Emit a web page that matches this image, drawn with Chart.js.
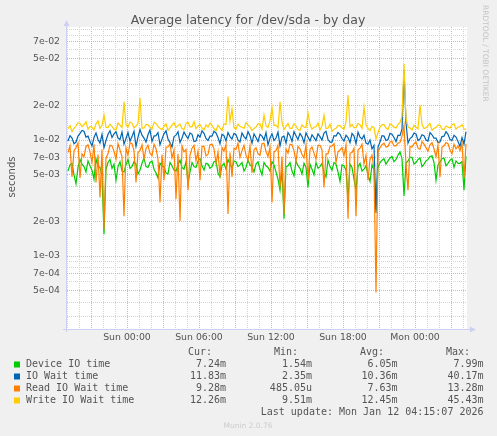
<!DOCTYPE html>
<html>
<head>
<meta charset="utf-8">
<script src="https://cdn.jsdelivr.net/npm/chart.js@4.4.1/dist/chart.umd.min.js"></script>
<style>
html, body { margin: 0; padding: 0; background: #f0f0f0; }
</style>
</head>
<body>
<canvas id="myChart" width="497" height="436"></canvas>
<script>
// samples every 10 minutes, minutes relative to Sun 00:00
var sampleStart = -295, sampleStep = 10;

// values in milliseconds
var deviceIO = [5.4,6.1, 6.3,5.0, 4.2,5.8, 6.8,6.2, 5.9,5.3, 6.6,6.0, 5.5,4.6, 6.9,5.9, 5.8,4.9, 1.54,5.6,
  6.4,6.8, 5.7,6.2, 4.5,5.9, 6.5,5.4, 5.3,6.1, 6.8,5.7, 5.9,6.5, 6.2,5.1, 5.5,6.3, 7.0,5.9,
  5.8,6.4, 6.6,5.6, 5.2,4.7, 6.3,6.0, 5.9,5.2, 5.1,6.4, 6.0,5.5, 5.4,6.1, 6.7,5.8, 5.6,6.5,
  4.2,5.3, 6.4,5.9, 5.8,6.6, 6.9,6.0, 5.5,6.3, 6.2,5.7, 5.9,6.5, 6.6,5.2, 4.8,6.0, 6.3,5.6,
  6.8,6.2, 5.7,6.6, 6.5,5.9, 6.1,6.4, 5.4,5.8, 6.7,6.1, 5.9,5.3, 6.2,6.5, 5.6,5.0, 6.4,6.0,
  5.8,5.4, 6.5,6.1, 5.3,4.6, 3.7,5.5, 2.1,5.9, 6.0,6.4, 5.4,4.9, 6.6,6.0, 5.7,5.1, 6.3,5.8,
  3.9,6.2, 5.6,5.0, 6.4,5.7, 5.9,6.3, 5.2,4.8, 6.7,5.9, 5.5,6.4, 6.2,5.3, 4.4,6.1, 6.0,5.5,
  3.0,6.2, 5.8,4.6, 3.7,5.9, 6.3,5.4, 5.6,6.0, 5.0,4.4, 6.1,5.5, 2.5,5.8, 6.4,6.7, 6.9,6.2,
  6.6,7.0, 7.2,6.5, 6.8,7.4, 7.9,6.9, 3.3,6.3, 6.6,7.1, 7.1,6.2, 6.4,6.8, 7.0,5.9, 6.2,6.6,
  6.8,7.2, 7.3,6.4, 4.5,6.1, 6.5,6.9, 7.0,6.0, 6.3,6.7, 6.9,5.8, 6.6,6.3, 6.3,6.5, 3.7,7.24];
var ioWait = [9.8,10.9, 10.4,9.3, 9.6,10.8, 11.4,12.1, 11.9,10.6, 10.8,9.7, 8.9,10.5, 11.5,10.1, 9.4,11.2, 8.6,9.9,
  11.2,12.0, 10.5,11.3, 11.8,10.4, 10.1,11.7, 9.2,10.3, 11.6,9.8, 10.7,11.9, 8.8,10.6, 12.3,11.0, 10.4,9.6,
  11.1,12.2, 9.7,10.8, 10.9,11.6, 9.1,10.2, 11.3,12.0, 10.2,9.5, 8.7,10.7, 11.0,11.8, 9.5,10.4, 11.7,10.9,
  10.3,11.5, 11.2,9.7, 9.8,11.1, 10.6,12.0, 11.4,10.3, 9.9,10.8, 10.8,11.9, 11.5,10.5, 9.3,11.2, 10.9,9.8,
  11.6,10.7, 10.2,11.4, 11.1,10.0, 9.6,11.5, 10.7,10.2, 11.8,10.9, 9.4,11.3, 10.5,9.7, 11.2,10.8, 10.0,11.6,
  9.1,10.4, 11.3,9.9, 10.4,11.7, 8.9,10.6, 10.8,9.4, 11.6,10.9, 9.7,11.8, 10.9,10.1, 11.4,10.7, 9.5,11.5,
  10.6,9.8, 11.1,10.5, 9.9,11.3, 10.7,10.0, 11.5,11.9, 10.1,9.6, 9.6,10.9, 10.8,11.6, 11.2,10.3, 9.8,11.0,
  10.5,9.5, 11.4,10.8, 9.3,11.7, 10.6,10.2, 11.0,9.4, 9.2,10.0, 8.4,9.0, 2.35,8.7, 9.6,10.9, 10.8,9.9,
  10.1,11.4, 11.2,10.5, 9.7,11.0, 10.9,12.4, 40.17,14.0, 9.4,10.3, 10.6,11.5, 11.3,9.9, 10.2,11.1, 10.9,10.0,
  9.8,11.6, 11.1,10.4, 10.4,9.5, 9.6,10.7, 10.8,11.8, 11.2,10.1, 9.9,11.0, 10.6,9.7, 8.8,10.5, 9.2,11.83];
var readWait = [7.8,8.9, 4.8,8.1, 8.6,9.4, 4.7,7.6, 7.2,8.8, 9.1,7.9, 6.4,9.2, 4.3,7.5, 3.2,8.3, 1.7,7.0,
  7.6,9.0, 8.9,8.0, 6.8,9.3, 8.2,7.2, 2.2,8.6, 7.4,9.5, 9.3,8.1, 4.3,7.8, 8.1,9.1, 6.9,8.4,
  9.0,7.7, 7.3,9.2, 8.4,6.9, 2.9,7.5, 4.5,8.7, 8.7,9.3, 7.0,8.2, 3.1,7.6, 2.0,8.9, 7.9,8.3,
  3.7,7.4, 8.5,9.0, 6.6,8.0, 4.5,8.8, 8.8,7.3, 7.5,9.1, 9.2,8.4, 6.3,7.9, 4.8,8.6, 8.0,9.2,
  2.3,7.8, 4.8,8.5, 8.3,9.4, 7.1,8.1, 9.0,7.4, 6.7,8.9, 5.2,8.2, 8.6,7.6, 7.4,9.3, 9.4,8.0,
  7.2,8.7, 2.9,7.9, 8.1,9.0, 3.9,7.2, 2.3,8.4, 7.7,9.2, 9.1,8.1, 6.5,8.8, 8.4,7.5, 7.0,9.1,
  4.5,8.3, 8.7,7.7, 6.8,9.0, 9.0,8.2, 3.9,7.6, 7.6,8.8, 8.9,9.3, 6.4,7.9, 8.2,8.6, 7.3,9.1,
  2.1,7.7, 7.8,8.5, 2.2,8.2, 8.5,9.2, 6.2,7.4, 4.5,6.8, 7.4,5.6, 0.485,7.9, 8.6,9.1, 9.4,8.7,
  8.8,9.6, 9.7,8.9, 8.9,9.4, 9.5,10.8, 13.28,6.1, 3.7,8.8, 8.7,9.3, 9.6,8.5, 8.3,9.7, 9.2,8.6,
  8.0,9.1, 9.5,8.4, 7.2,9.0, 4.8,8.7, 8.9,9.5, 9.3,8.2, 7.6,9.2, 8.4,8.9, 8.1,9.4, 4.7,9.28];
var writeWait = [12.5,13.3, 11.8,12.6, 13.2,14.1, 13.9,13.0, 13.6,14.4, 12.4,13.1, 12.9,12.2, 13.8,14.6, 12.6,13.4, 16.4,12.9,
  12.8,13.7, 13.1,12.4, 12.2,14.0, 13.4,12.8, 21.3,13.5, 12.9,14.3, 14.0,12.7, 13.2,13.9, 23.0,12.6, 12.7,13.6,
  13.5,12.9, 12.4,14.2, 13.9,13.1, 12.6,12.3, 13.1,13.8, 12.1,12.8, 13.4,14.1, 12.8,13.3, 13.7,12.5, 12.3,13.9,
  14.2,13.0, 13.0,14.4, 12.5,13.2, 13.6,12.7, 12.2,13.5, 12.9,14.0, 13.3,12.6, 12.0,13.4, 12.7,12.1, 13.8,13.6,
  23.7,14.5, 18.5,12.8, 12.4,13.7, 13.1,12.9, 12.6,14.1, 13.5,13.0, 12.1,12.6, 12.9,13.8, 13.8,12.4, 16.4,13.2,
  12.8,14.6, 19.0,13.3, 13.4,12.7, 21.3,14.2, 12.3,13.1, 13.9,12.6, 12.6,13.8, 13.2,12.3, 12.1,13.5, 12.9,12.8,
  17.1,13.6, 12.4,12.9, 13.0,14.0, 12.2,13.2, 16.4,12.5, 12.7,13.7, 11.9,12.4, 12.6,13.3, 13.3,12.7, 12.4,14.3,
  24.4,13.0, 13.6,12.8, 12.8,13.9, 13.5,12.6, 19.2,13.4, 12.6,12.1, 13.1,12.8, 10.2,11.6, 12.9,13.5, 13.6,12.7,
  12.3,13.8, 13.4,12.9, 12.7,13.6, 14.2,16.0, 45.4,15.5, 13.0,12.7, 12.2,13.4, 12.9,12.5, 20.0,13.6, 12.5,12.8,
  13.3,13.9, 12.1,12.6, 12.8,13.5, 13.4,12.4, 12.3,13.2, 12.9,12.7, 13.5,13.8, 12.4,12.9, 13.0,13.6, 12.5,12.26];

var seriesNames = ['Device IO time', 'IO Wait time', 'Read IO Wait time', 'Write IO Wait time'];
var seriesColors = ['#00cc00', '#0066b3', '#ff8000', '#ffcc00'];
var curText = ['7.24m', '11.83m', '9.28m', '12.26m'];
var minText = ['1.54m', '2.35m', '485.05u', '9.51m'];
var avgText = ['6.05m', '10.36m', '7.63m', '12.45m'];
var maxText = ['7.99m', '40.17m', '13.28m', '45.43m'];

var xTickMinutes = [0, 360, 720, 1080, 1440];
var xTickLabels = ['Sun 00:00', 'Sun 06:00', 'Sun 12:00', 'Sun 18:00', 'Mon 00:00'];
var yTickLabels = ['5e-04', '7e-04', '1e-03', '2e-03', '5e-03', '7e-03', '1e-02', '2e-02', '5e-02', '7e-02'];

var RED = '#f2a8a8', GRAY = '#d4d4d4', TXT = '#555';

function expLabel(v) {
    var e = Math.floor(Math.log10(v) + 1e-9);
    var m = Math.round(v / Math.pow(10, e));
    return m + 'e-0' + (-e);
}

var all = [deviceIO, ioWait, readWait, writeWait];
var datasets = all.map(function(arr, k) {
    return {
        label: seriesNames[k],
        data: arr.map(function(v, i) { return {x: sampleStart + i * sampleStep, y: v / 1000}; }),
        borderColor: seriesColors[k],
        borderWidth: 1.2,
        pointRadius: 0,
        fill: false,
        tension: 0,
        order: 4 - k
    };
});

var muninBits = {
    id: 'muninBits',
    beforeDraw: function(chart) {
        var c = chart.ctx, a = chart.chartArea;
        c.save();
        c.fillStyle = '#f0f0f0';
        c.fillRect(0, 0, chart.width, chart.height);
        c.fillStyle = '#ffffff';
        c.fillRect(a.left, a.top, a.right - a.left, a.bottom - a.top);
        c.restore();
    },
    afterDraw: function(chart) {
        var c = chart.ctx, a = chart.chartArea;
        c.save();
        // axes with arrows
        c.strokeStyle = '#ccd0f2';
        c.fillStyle = '#ccd0f2';
        c.lineWidth = 1;
        c.beginPath();
        c.moveTo(a.left - 0.5, a.top - 4); c.lineTo(a.left - 0.5, a.bottom + 3);
        c.moveTo(a.left - 4, a.bottom + 0.5); c.lineTo(a.right + 4, a.bottom + 0.5);
        c.stroke();
        c.beginPath();
        c.moveTo(a.left - 3.5, a.top - 1); c.lineTo(a.left - 0.5, a.top - 7); c.lineTo(a.left + 2.5, a.top - 1);
        c.fill();
        c.beginPath();
        c.moveTo(a.right + 3, a.bottom - 2.5); c.lineTo(a.right + 9, a.bottom + 0.5); c.lineTo(a.right + 3, a.bottom + 3.5);
        c.fill();

        // title
        c.fillStyle = TXT;
        c.font = '12.5px "DejaVu Sans"';
        c.textAlign = 'center';
        c.textBaseline = 'alphabetic';
        c.fillText('Average latency for /dev/sda - by day', 248, 24);

        // y axis title
        c.save();
        c.translate(15, 177);
        c.rotate(-Math.PI / 2);
        c.font = '10px "DejaVu Sans"';
        c.fillText('seconds', 0, 0);
        c.restore();

        // watermark
        c.save();
        c.translate(483, 5);
        c.rotate(Math.PI / 2);
        c.fillStyle = '#c4c4c4';
        c.font = '7.5px "DejaVu Sans"';
        c.textAlign = 'left';
        c.fillText('RRDTOOL / TOBI OETIKER', 0, 0);
        c.restore();

        // legend table
        c.font = '10px "DejaVu Sans Mono"';
        c.textBaseline = 'middle';
        c.fillStyle = TXT;
        c.textAlign = 'right';
        c.fillText('Cur:', 212, 352.5);
        c.fillText('Min:', 298, 352.5);
        c.fillText('Avg:', 384, 352.5);
        c.fillText('Max:', 470, 352.5);
        for (var k = 0; k < 4; k++) {
            var y = 364.5 + 12 * k;
            c.fillStyle = seriesColors[k];
            c.fillRect(14, y - 3, 6, 6);
            c.fillStyle = TXT;
            c.textAlign = 'left';
            c.fillText(seriesNames[k], 26, y);
            c.textAlign = 'right';
            c.fillText(curText[k], 226, y);
            c.fillText(minText[k], 312, y);
            c.fillText(avgText[k], 397.5, y);
            c.fillText(maxText[k], 483.5, y);
        }
        c.fillText('Last update: Mon Jan 12 04:15:07 2026', 483.5, 412.5);

        c.fillStyle = '#cccccc';
        c.font = '7.5px "DejaVu Sans"';
        c.textAlign = 'center';
        c.fillText('Munin 2.0.76', 248, 426);
        c.restore();
    }
};

var ctx = document.getElementById('myChart').getContext('2d');
var chart = new Chart(ctx, {
    type: 'line',
    data: { datasets: datasets },
    plugins: [muninBits],
    options: {
        responsive: false,
        animation: false,
        events: [],
        layout: { padding: { left: 0, top: 27, right: 30, bottom: 87 } },
        plugins: { legend: { display: false }, tooltip: { enabled: false }, title: { display: false } },
        scales: {
            x: {
                type: 'linear',
                min: -300,
                max: 1700,
                afterBuildTicks: function(ax) {
                    var t = [];
                    for (var m = -300; m <= 1680; m += 60) t.push({value: m});
                    ax.ticks = t;
                },
                afterFit: function(ax) { ax.height = 20; },
                grid: {
                    drawTicks: false,
                    lineWidth: 1,
                    color: function(c) { return (c.tick && c.tick.value % 180 === 0) ? RED : GRAY; }
                },
                border: { display: false, dash: [1, 1] },
                ticks: {
                    autoSkip: false,
                    maxRotation: 0,
                    padding: 3,
                    color: TXT,
                    font: { family: 'DejaVu Sans', size: 9.33 },
                    callback: function(v) {
                        var i = xTickMinutes.indexOf(v);
                        return i < 0 ? '' : xTickLabels[i];
                    }
                }
            },
            y: {
                type: 'logarithmic',
                min: 2.349e-4,
                max: 0.09421,
                afterBuildTicks: function(ax) {
                    var t = [];
                    for (var e = -4; e <= -2; e++) {
                        for (var m = 1; m <= 9; m++) {
                            var v = m * Math.pow(10, e);
                            if (v >= ax.min && v <= ax.max) t.push({value: v});
                        }
                    }
                    ax.ticks = t;
                },
                afterFit: function(ax) { ax.width = 67; },
                grid: {
                    drawTicks: false,
                    lineWidth: 1,
                    color: function(c) {
                        return (c.tick && yTickLabels.indexOf(expLabel(c.tick.value)) >= 0) ? RED : GRAY;
                    }
                },
                border: { display: false, dash: [1, 1] },
                ticks: {
                    autoSkip: false,
                    padding: 7,
                    color: TXT,
                    font: { family: 'DejaVu Sans', size: 9.33 },
                    callback: function(v) {
                        var s = expLabel(v);
                        return yTickLabels.indexOf(s) >= 0 ? s : '';
                    }
                }
            }
        }
    }
});
</script>
</body>
</html>
